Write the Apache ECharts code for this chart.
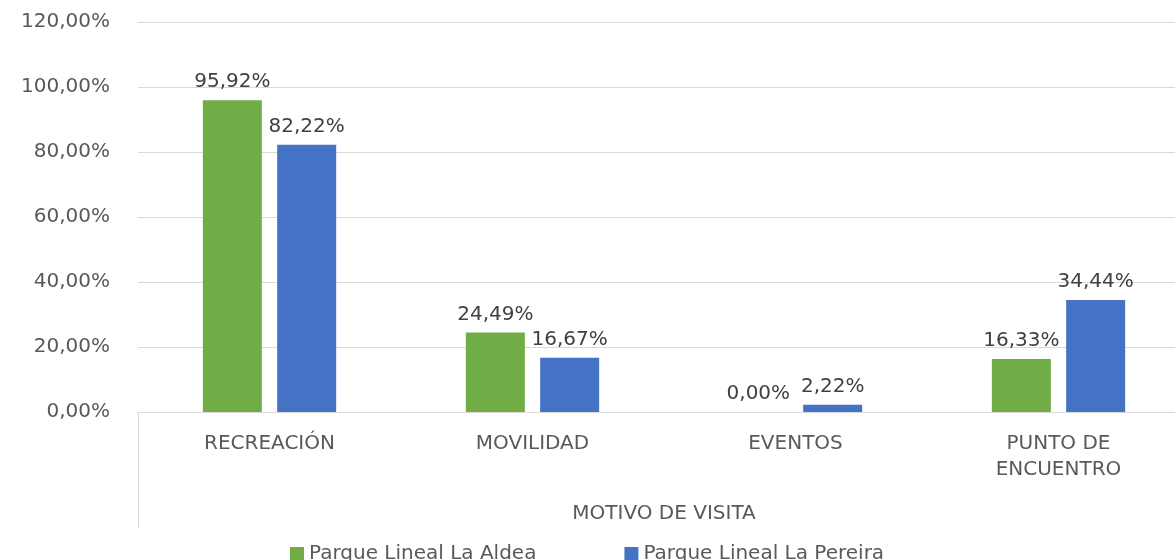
<!DOCTYPE html>
<html>
<head>
<meta charset="utf-8">
<script src="https://cdn.jsdelivr.net/npm/echarts@6/dist/echarts.min.js"></script>
<style>
  html, body { margin: 0; padding: 0; background: #fff; overflow: hidden; }
  #chart { width: 1190px; height: 560px; }
</style>
</head>
<body>
<div id="chart"></div>
<script>
// motivos de visita
const categories = ['RECREACIÓN', 'MOVILIDAD', 'EVENTOS', 'PUNTO DE\nENCUENTRO'];
const seriesNames = ['Parque Lineal La Aldea', 'Parque Lineal La Pereira'];
const aldea = [95.92, 24.49, 0.00, 16.33];
const pereira = [82.22, 16.67, 2.22, 34.44];
const yTicks = [0, 20, 40, 60, 80, 100, 120];

const fmt = v => v.toFixed(2).replace('.', ',') + '%';
const textColor = '#595959';
const font = 'DejaVu Sans';

const chart = echarts.init(document.getElementById('chart'));

const option = {
  animation: false,
  textStyle: { fontFamily: font },
  grid: { left: 138, right: 0, top: 22, bottom: 148, containLabel: false },
  legend: {
    top: 539,
    left: 285,
    itemWidth: 14,
    itemHeight: 14,
    itemGap: 88,
    icon: 'rect',
    textStyle: { fontSize: 20, color: textColor, fontFamily: font }
  },
  xAxis: {
    type: 'category',
    data: categories,
    name: 'MOTIVO DE VISITA',
    nameLocation: 'middle',
    nameGap: 92,
    nameTextStyle: { fontSize: 20, color: textColor, fontFamily: font },
    axisLine: { lineStyle: { color: '#d9d9d9', width: 1 } },
    axisTick: { show: false },
    axisLabel: { fontSize: 20, color: textColor, margin: 19, lineHeight: 26, fontFamily: font }
  },
  yAxis: {
    type: 'value',
    min: yTicks[0],
    max: yTicks[yTicks.length - 1],
    interval: 20,
    axisLine: { show: false },
    axisTick: { show: false },
    splitLine: { lineStyle: { color: '#d9d9d9', width: 1 } },
    axisLabel: {
      fontSize: 20,
      color: textColor,
      margin: 28,
      fontFamily: font,
      formatter: v => fmt(v)
    }
  },
  graphic: [{
    type: 'line',
    shape: { x1: 138.5, y1: 412, x2: 138.5, y2: 528 },
    style: { stroke: '#d9d9d9', lineWidth: 1 }
  }],
  series: [
    {
      name: seriesNames[0],
      type: 'bar',
      data: aldea,
      barWidth: 59,
      barGap: '26%',
      itemStyle: { color: '#70AD47' },
      label: {
        show: true,
        position: 'top',
        distance: 8,
        fontSize: 20,
        color: '#404040',
        fontFamily: font,
        formatter: p => fmt(p.value)
      }
    },
    {
      name: seriesNames[1],
      type: 'bar',
      data: pereira,
      barWidth: 59,
      itemStyle: { color: '#4472C4' },
      label: {
        show: true,
        position: 'top',
        distance: 8,
        fontSize: 20,
        color: '#404040',
        fontFamily: font,
        formatter: p => fmt(p.value)
      }
    }
  ]
};

chart.setOption(option);
</script>
</body>
</html>
